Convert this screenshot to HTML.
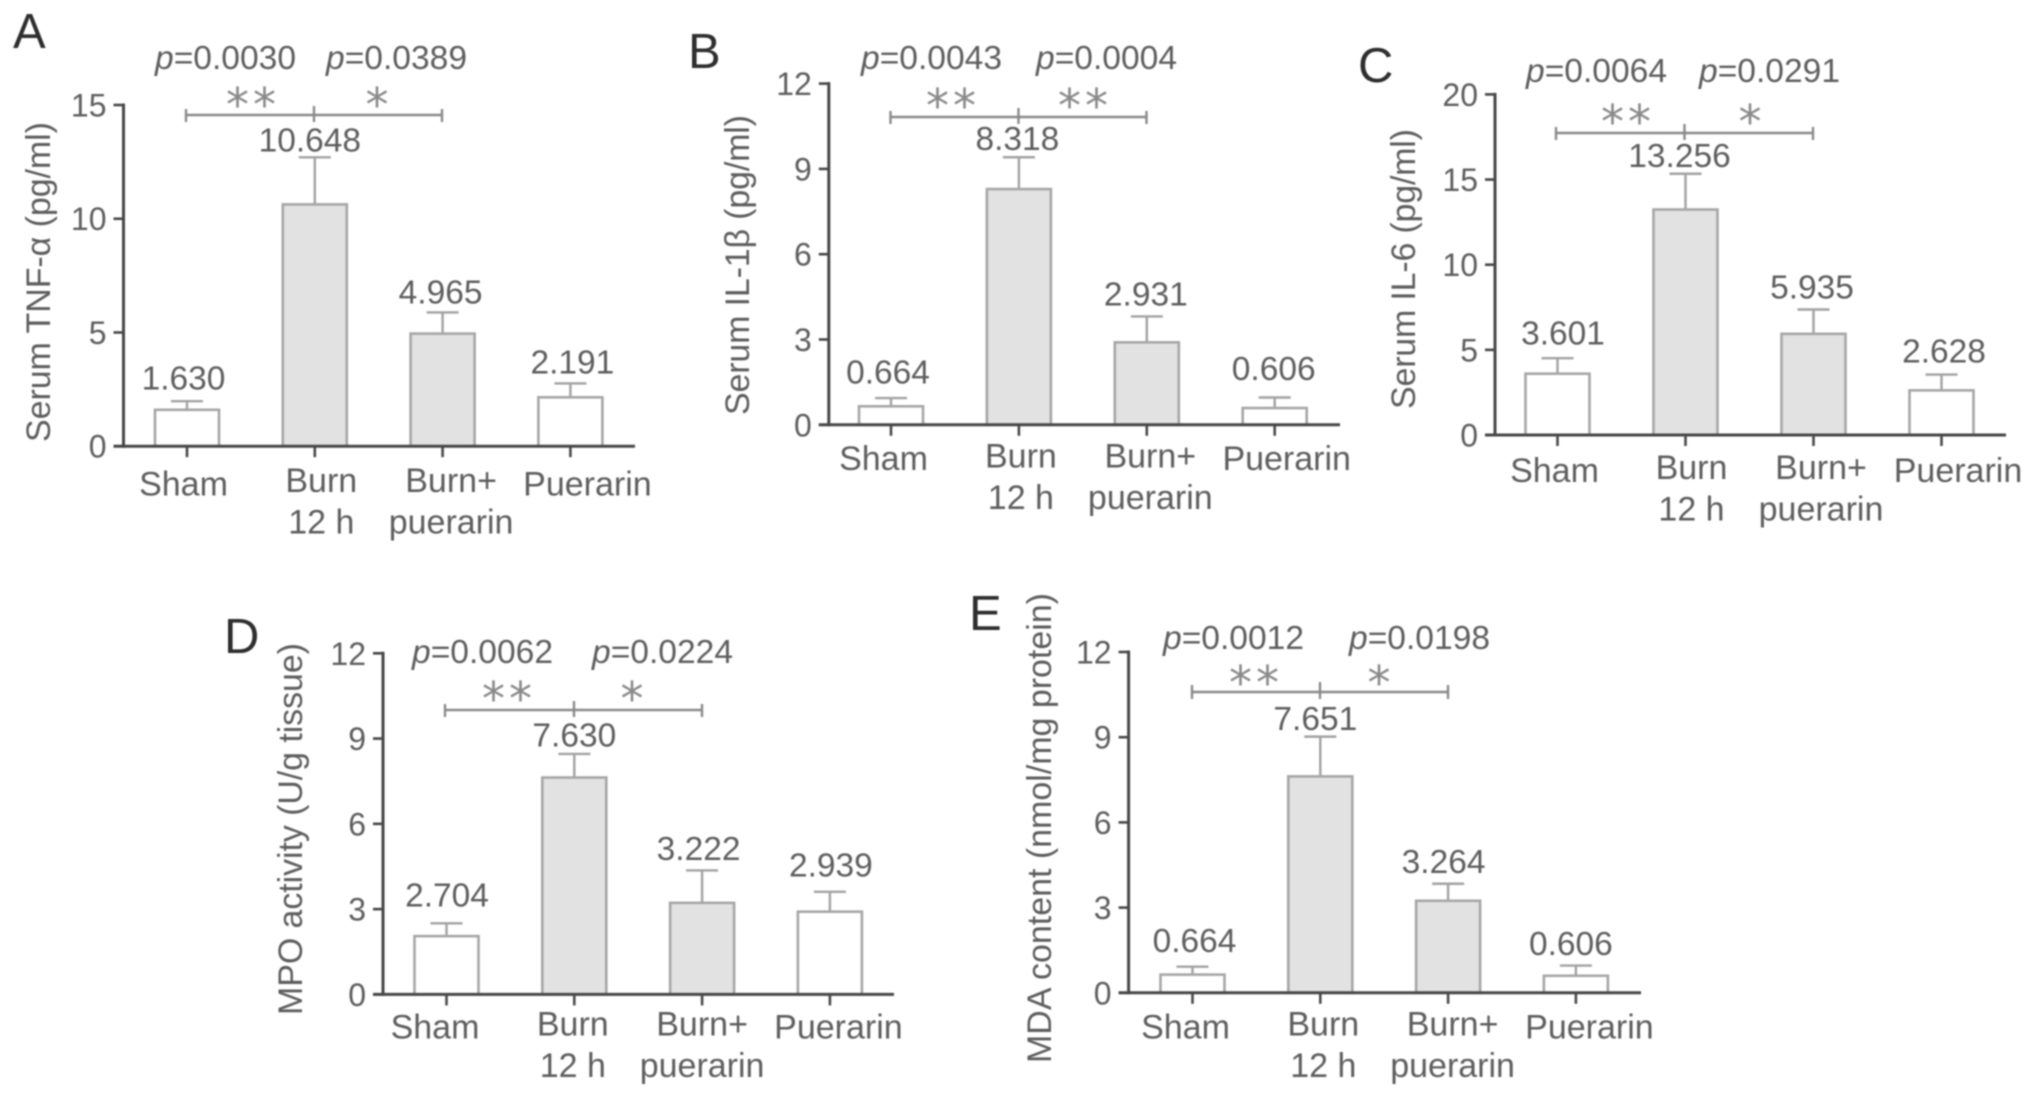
<!DOCTYPE html>
<html lang="en">
<head>
<meta charset="utf-8">
<title>Serum cytokines, MPO activity and MDA content</title>
<style>
html,body{margin:0;padding:0;background:#fff;width:2032px;height:1095px;overflow:hidden}
#figure{display:block;filter:blur(0.7px)}
text{font-family:"Liberation Sans",sans-serif;fill:#5e5e5e}
.panel-letter{font-size:49px;fill:#2e2e2e}
.y-title{font-size:34px}
.p-value{font-size:33.6px}
.p-value tspan{font-style:italic}
.stars{font-family:"DejaVu Sans",sans-serif;font-size:46px;fill:#8a8a8a;text-anchor:middle;letter-spacing:4px}
.bracket{stroke:#8a8a8a;stroke-width:2.4;fill:none}
.value-label{font-size:33.5px;text-anchor:middle}
.tick-label{font-size:32px;text-anchor:end}
.category-label{font-size:34px;text-anchor:middle}
</style>
</head>
<body>
<svg id="figure" xmlns="http://www.w3.org/2000/svg" width="2032" height="1095" viewBox="0 0 2032 1095">
  <rect width="2032" height="1095" fill="#fff"/>

  <g id="panel-a">
    <text class="panel-letter" x="13" y="48">A</text>
    <text class="y-title" text-anchor="middle" textLength="320" lengthAdjust="spacing" transform="translate(50 282) rotate(-90)">Serum TNF-α (pg/ml)</text>
    <text class="p-value" x="155" y="69"><tspan>p</tspan>=0.0030</text>
    <text class="p-value" x="326" y="69"><tspan>p</tspan>=0.0389</text>
    <text class="stars" x="253" y="121">**</text>
    <text class="stars" x="379" y="121">*</text>
    <path class="bracket" d="M186 115H442M186 109V122M314 106V122M442 109V122"/>
  </g>

  <g id="panel-b">
    <text class="panel-letter" x="688" y="68">B</text>
    <text class="y-title" text-anchor="middle" textLength="300" lengthAdjust="spacing" transform="translate(749 265) rotate(-90)">Serum IL-1β (pg/ml)</text>
    <text class="p-value" x="861" y="69"><tspan>p</tspan>=0.0043</text>
    <text class="p-value" x="1036" y="69"><tspan>p</tspan>=0.0004</text>
    <text class="stars" x="953" y="122">**</text>
    <text class="stars" x="1085" y="122">**</text>
    <path class="bracket" d="M890.5 117H1146.5M890.5 111V124M1018.5 108V124M1146.5 111V124"/>
  </g>

  <g id="panel-c">
    <text class="panel-letter" x="1358" y="82">C</text>
    <text class="y-title" text-anchor="middle" textLength="280" lengthAdjust="spacing" transform="translate(1415 269) rotate(-90)">Serum IL-6 (pg/ml)</text>
    <text class="p-value" x="1526" y="82"><tspan>p</tspan>=0.0064</text>
    <text class="p-value" x="1699" y="82"><tspan>p</tspan>=0.0291</text>
    <text class="stars" x="1628" y="138">**</text>
    <text class="stars" x="1752" y="138">*</text>
    <path class="bracket" d="M1556 133H1813M1556 127V140M1684.5 124V140M1813 127V140"/>
  </g>

  <g id="panel-d">
    <text class="panel-letter" x="224" y="653">D</text>
    <text class="y-title" text-anchor="middle" textLength="372" lengthAdjust="spacing" transform="translate(302 829) rotate(-90)">MPO activity (U/g tissue)</text>
    <text class="p-value" x="412" y="663"><tspan>p</tspan>=0.0062</text>
    <text class="p-value" x="592" y="663"><tspan>p</tspan>=0.0224</text>
    <text class="stars" x="509" y="715">**</text>
    <text class="stars" x="634" y="715">*</text>
    <path class="bracket" d="M445 710H702M445 704V717M574 701V717M702 704V717"/>
  </g>

  <g id="panel-e">
    <text class="panel-letter" x="969" y="630">E</text>
    <text class="y-title" text-anchor="middle" textLength="470" lengthAdjust="spacing" transform="translate(1051 828) rotate(-90)">MDA content (nmol/mg protein)</text>
    <text class="p-value" x="1163" y="649"><tspan>p</tspan>=0.0012</text>
    <text class="p-value" x="1349" y="649"><tspan>p</tspan>=0.0198</text>
    <text class="stars" x="1256" y="699">**</text>
    <text class="stars" x="1381" y="699">*</text>
    <path class="bracket" d="M1192 692H1448M1192 685V699M1320 682V699M1448 685V699"/>
  </g>
</svg>

<script>
// ---------- chart data ----------
const categories = [["Sham"], ["Burn", "12 h"], ["Burn+", "puerarin"], ["Puerarin"]];
const barIsShaded = [false, true, true, false];

const ticksA = [0, 5, 10, 15];
const meansA = [1.60, 10.63, 4.95, 2.15];
const errorTopsA = [1.98, 12.70, 5.88, 2.76];
const printedA = ["1.630", "10.648", "4.965", "2.191"];

const ticksB = [0, 3, 6, 9, 12];
const meansB = [0.65, 8.29, 2.90, 0.59];
const errorTopsB = [0.94, 9.41, 3.81, 0.96];
const printedB = ["0.664", "8.318", "2.931", "0.606"];

const ticksC = [0, 5, 10, 15, 20];
const meansC = [3.60, 13.24, 5.94, 2.62];
const errorTopsC = [4.51, 15.34, 7.37, 3.55];
const printedC = ["3.601", "13.256", "5.935", "2.628"];

const ticksD = [0, 3, 6, 9, 12];
const meansD = [2.05, 7.63, 3.22, 2.91];
const errorTopsD = [2.50, 8.46, 4.36, 3.61];
const printedD = ["2.704", "7.630", "3.222", "2.939"];

const ticksE = [0, 3, 6, 9, 12];
const meansE = [0.64, 7.62, 3.24, 0.60];
const errorTopsE = [0.92, 9.02, 3.84, 0.96];
const printedE = ["0.664", "7.651", "3.264", "0.606"];

// ---------- drawing ----------
const SVG_NS = "http://www.w3.org/2000/svg";

function make(parent, tag, attrs, text) {
  const el = document.createElementNS(SVG_NS, tag);
  for (const k in attrs) el.setAttribute(k, attrs[k]);
  if (text !== undefined) el.textContent = text;
  parent.appendChild(el);
  return el;
}

function drawPanel(id, ticks, means, errorTops, printed, frame) {
  const root = document.getElementById("panel-" + id);
  const maxTick = ticks[ticks.length - 1];
  const yScale = v => frame.y0 - (v / maxTick) * (frame.y0 - frame.yTop);
  const xScale = i => frame.first + i * frame.step;
  const halfBar = 32;
  const capHalf = 16;

  means.forEach((m, i) => {
    const cx = xScale(i);
    const top = yScale(m);
    const errY = yScale(errorTops[i]);

    const stem = make(root, "line", {x1: cx, x2: cx, y1: top, y2: errY, stroke: "#a2a2a2", "stroke-width": 2.4});
    
    

    const cap = make(root, "line", {x1: cx - capHalf, x2: cx + capHalf, y1: errY, y2: errY, stroke: "#a2a2a2", "stroke-width": 2.4});
    
    

    const bar = make(root, "rect", {
      x: cx - halfBar, y: top, width: halfBar * 2, height: frame.y0 - top,
      fill: barIsShaded[i] ? "#e2e2e2" : "#ffffff", stroke: "#a6a6a6", "stroke-width": 2.6
    });
    
    

    const value = make(root, "text", {
      class: "value-label",
      x: cx + frame.labelDx[i],
      y: errY - frame.labelGap[i]
    }, printed[i]);
    
    

    const tick = make(root, "line", {x1: cx, x2: cx, y1: frame.y0, y2: frame.y0 + 11, stroke: "#4a4a4a", "stroke-width": 2.6});
    
    

    categories[i].forEach((line, n) => {
      const base = categories[i].length === 1 ? frame.catSingle : (n === 0 ? frame.catFirst : frame.catSecond);
      const cat = make(root, "text", {
        class: "category-label",
        x: cx + frame.catDx[i],
        y: frame.y0 + base
      }, line);
      
      
    });
  });

  const yAxis = make(root, "line", {x1: frame.axisX, x2: frame.axisX, y1: frame.yTop - 1.5, y2: frame.y0 + 1.5, stroke: "#474747", "stroke-width": 3});
  
  

  const xAxis = make(root, "line", {x1: frame.axisX - 10, x2: frame.right, y1: frame.y0, y2: frame.y0, stroke: "#474747", "stroke-width": 3});
  
  

  ticks.forEach(t => {
    const y = yScale(t);
    const mark = make(root, "line", {x1: frame.axisX - 10, x2: frame.axisX, y1: y, y2: y, stroke: "#474747", "stroke-width": 2.6});
    
    

    const label = make(root, "text", {class: "tick-label", x: frame.axisX - 17, y: y + 11.5}, String(t));
    
    
  });
}

drawPanel("a", ticksA, meansA, errorTopsA, printedA, {
  axisX: 123.5, right: 635, y0: 446.2, yTop: 105, first: 187, step: 127.8,
  labelDx: [-3.5, -5, -2, 2], labelGap: [11.5, 6, 9, 10],
  catDx: [-3.5, 6.5, 8.5, 17], catSingle: 49.5, catFirst: 46, catSecond: 87.5
});
drawPanel("b", ticksB, meansB, errorTopsB, printedB, {
  axisX: 828.8, right: 1340, y0: 424.8, yTop: 83.6, first: 891, step: 127.9,
  labelDx: [-3, -1.5, -1, -1], labelGap: [14.5, 7, 11, 17.5],
  catDx: [-7.5, 2, 3.5, 12], catSingle: 45, catFirst: 42.5, catSecond: 84
});
drawPanel("c", ticksC, meansC, errorTopsC, printedC, {
  axisX: 1495, right: 2006, y0: 435, yTop: 94.4, first: 1557.5, step: 128,
  labelDx: [5.5, -6, -1.5, 2.5], labelGap: [13.5, 7, 11, 12],
  catDx: [-3, 6, 7.5, 16.5], catSingle: 47, catFirst: 44, catSecond: 85.3
});
drawPanel("d", ticksD, meansD, errorTopsD, printedD, {
  axisX: 383, right: 894, y0: 994.4, yTop: 653.3, first: 446.5, step: 127.8,
  labelDx: [0.5, 0, -3.5, 1], labelGap: [17, 7.5, 10.5, 15.5],
  catDx: [-11.5, -1.5, 0, 8.5], catSingle: 44, catFirst: 41.2, catSecond: 82.5
});
drawPanel("e", ticksE, meansE, errorTopsE, printedE, {
  axisX: 1128.6, right: 1641, y0: 992.8, yTop: 652, first: 1192.5, step: 127.8,
  labelDx: [2, -5, -4.5, -5], labelGap: [14.5, 6.5, 10.5, 10.5],
  catDx: [-7, 3, 4.5, 13.5], catSingle: 45.5, catFirst: 42.8, catSecond: 84
});
</script>
</body>
</html>
